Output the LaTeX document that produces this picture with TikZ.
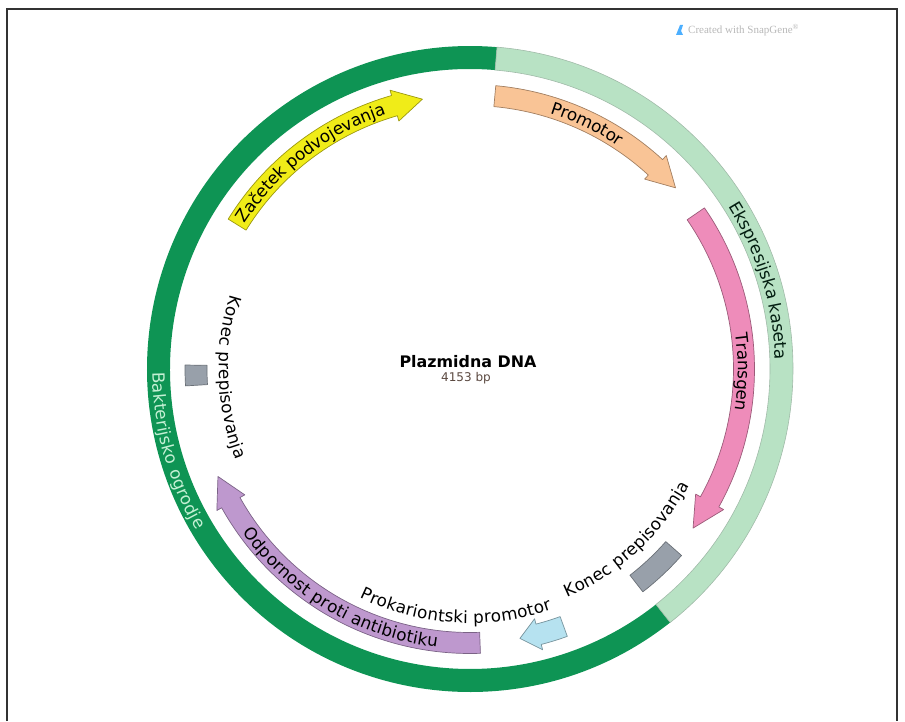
\documentclass[tikz,border=0pt]{standalone}
\usepackage{fontspec}
\setmainfont{DejaVu Sans}
\newfontfamily\creditfont{Liberation Serif}
\usetikzlibrary{decorations.text}

\definecolor{backbone}{RGB}{14,148,84}
\definecolor{cassette}{RGB}{184,226,196}
\definecolor{oriyellow}{RGB}{240,236,24}
\definecolor{promorange}{RGB}{249,196,150}
\definecolor{genepink}{RGB}{238,140,186}
\definecolor{resistpurple}{RGB}{190,152,206}
\definecolor{prokblue}{RGB}{182,226,240}
\definecolor{termgray}{RGB}{152,160,170}
\definecolor{mintlabel}{RGB}{196,240,212}
\definecolor{sizebrown}{RGB}{90,72,64}

\newcommand{\lblfont}{\fontsize{16.8}{20}\selectfont}
% arrow in the feature lane: tail angle, head base angle, tip angle, colour
\newcommand{\featarrow}[4]{%
  \filldraw[feature, fill=#4, draw=#4!65!black] (#1:263.5pt) arc[start angle=#1, end angle=#2, radius=263.5pt]
    -- (#2:258pt) -- (#3:274pt) -- (#2:290pt) -- (#2:284.5pt)
    arc[start angle=#2, end angle=#1, radius=284.5pt] -- cycle;}
% box in the feature lane: from angle, to angle, inner r, outer r
\newcommand{\featbox}[4]{%
  \filldraw[feature, fill=termgray, draw=termgray!70!black] (#1:#3pt) arc[start angle=#1, end angle=#2, radius=#3pt]
    -- (#2:#4pt) arc[start angle=#2, end angle=#1, radius=#4pt] -- cycle;}
% curved labels: centre angle, radius, colour, text
\newcommand{\cwlabel}[4]{%
  \pgfmathsetmacro\lblA{#1+40}\pgfmathsetmacro\lblB{#1-40}%
  \path[decorate, decoration={text along path, text align=center, raise=-6.1pt,
    text={|\lblfont\color{#3}|#4}}] (\lblA:#2pt) arc[start angle=\lblA, end angle=\lblB, radius=#2pt];}
\newcommand{\ccwlabel}[4]{%
  \pgfmathsetmacro\lblA{#1-40}\pgfmathsetmacro\lblB{#1+40}%
  \path[decorate, decoration={text along path, text align=center, raise=-6.1pt,
    text={|\lblfont\color{#3}|#4}}] (\lblA:#2pt) arc[start angle=\lblA, end angle=\lblB, radius=#2pt];}

\begin{document}
\begin{tikzpicture}[x=1pt, y=1pt,
    feature/.style={line width=0.7pt, line join=round},
    frameline/.style={black!80, line width=1.6pt}]
  \useasboundingbox (-470,-352) rectangle (435,369);
  \draw[frameline] (-463,-352) -- (-463,360) -- (427,360) -- (427,-352);

  % backbone ring
  \fill[backbone] (85.2:300pt) arc[start angle=85.2, end angle=308.3, radius=300pt]
    -- (308.3:323pt) arc[start angle=308.3, end angle=85.2, radius=323pt] -- cycle;
  \filldraw[fill=cassette, draw=cassette!60!gray, line width=0.6pt] (-51.7:300pt) arc[start angle=-51.7, end angle=85.2, radius=300pt]
    -- (85.2:323pt) arc[start angle=85.2, end angle=-51.7, radius=323pt] -- cycle;
  \cwlabel{17}{311.5}{black!80!backbone}{Ekspresijska kaseta}
  \ccwlabel{195.5}{311.5}{mintlabel}{Bakterijsko ogrodje}

  % features
  \featarrow{148.2}{106}{100}{oriyellow}
  \featarrow{84.8}{47.4}{41.4}{promorange}
  \featarrow{34.5}{-29}{-35.5}{genepink}
  \featarrow{-70}{-75.5}{-79.5}{prokblue}
  \featarrow{272.1}{209.2}{203.1}{resistpurple}
  \featbox{-52.2}{-41.4}{261}{282}
  \featbox{179.2}{183.4}{263}{285}

  \cwlabel{127.7}{274}{black}{Začetek podvojevanja}
  \cwlabel{64.5}{274}{black}{Promotor}
  \cwlabel{-0.6}{274}{black}{Transgen}
  \ccwlabel{239.5}{274}{black}{Odpornost proti antibiotiku}
  \ccwlabel{-47.5}{242}{black}{Konec prepisovanja}
  \ccwlabel{-93.5}{248}{black}{Prokariontski promotor}
  \ccwlabel{182}{245}{black}{Konec prepisovanja}

  % centre
  \node[font=\bfseries\fontsize{15.9}{18}\selectfont, inner sep=0pt] (plasmid) at (-2,7) {Plazmidna DNA};
  \node[font=\fontsize{12}{14}\selectfont, text=sizebrown, inner sep=0pt] (size) at (-4,-9) {4153 bp};

  % credit
  \fill[blue!45!cyan!70] (206,334) -- (210,344) -- (213,344) -- (211,338) -- (213,334) -- cycle;
  \node[font=\creditfont\fontsize{11}{13}\selectfont, text=black!28, inner sep=0pt, anchor=west] (credit) at (218,339) {Created with SnapGene\textsuperscript{®}};
\end{tikzpicture}
\end{document}
